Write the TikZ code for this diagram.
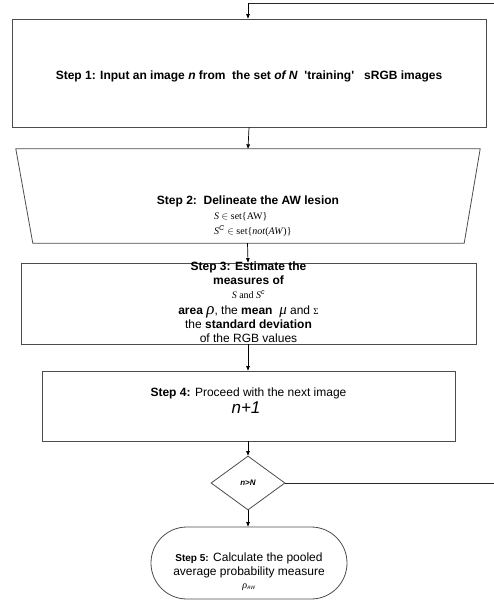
\documentclass[tikz,border=0pt]{standalone}
\usepackage{fontspec}
\setmainfont{Liberation Sans}
\newfontfamily\serifface{Liberation Serif}
\usetikzlibrary{arrows.meta,shapes.geometric}
\begin{document}
\begin{tikzpicture}[x=1pt,y=-1pt,
  box/.style={draw=black!70, line width=0.8pt, inner sep=0pt},
  conn/.style={draw=black, line width=0.7pt, -{Triangle[length=4.5pt,width=3.5pt]}},
  line/.style={draw=black!85, line width=0.7pt},
  txt/.style={inner sep=0pt, anchor=base},
]
\useasboundingbox (0,0) rectangle (493,600);

% Step 1
\node[box, minimum width=474pt, minimum height=108pt] (s1) at (249,73) {};
\node[txt, font=\bfseries\fontsize{12}{14}\selectfont] (t1) at (249,79)
  {Step 1: Input an image \textit{n} from\ \ the set \textit{of N}\ \ \textquotesingle training\textquotesingle\ \ \ sRGB images};

% Step 2 (trapezoid)
\node[inner sep=0pt, minimum width=464pt, minimum height=94pt] (s2) at (248,196) {};
\draw[box] (s2.north west) -- (s2.north east) -- ([xshift=-16pt]s2.south east)
  -- ([xshift=17pt]s2.south west) -- cycle;
\node[txt, font=\bfseries\fontsize{12}{14}\selectfont] (t2) at (248,204)
  {Step 2:\ \ Delineate the AW lesion};
\node[txt, anchor=base west, font=\serifface\fontsize{10}{12}\selectfont] (t2a) at (214,219)
  {\textit{S} $\in$\ set\{AW\}};
\node[txt, anchor=base west, font=\serifface\fontsize{10}{12}\selectfont] (t2b) at (214,234)
  {\textit{S}$^{\mathit{C}}$ $\in$\ set\{\textit{not}(\textit{AW})\}};

% Step 3
\node[box, minimum width=455pt, minimum height=81pt] (s3) at (248.5,303.5) {};
\node[txt, font=\bfseries\fontsize{12}{14}\selectfont] (t3a) at (248.5,270.5) {Step 3: Estimate the};
\node[txt, font=\bfseries\fontsize{12}{14}\selectfont] (t3b) at (248.5,284.5) {measures of};
\node[txt, font=\serifface\fontsize{10}{12}\selectfont] (t3c) at (248.5,298.5) {\textit{S} and \textit{S}$^{\mathit{c}}$};
\node[txt, font=\fontsize{12}{14}\selectfont] (t3d) at (248.5,314)
  {\textbf{area} {\serifface\itshape\fontsize{17}{17}\selectfont ρ}, the \textbf{mean}\ \ {\serifface\itshape\fontsize{15}{15}\selectfont μ} and {\serifface\fontsize{9}{9}\selectfont Σ}};
\node[txt, font=\fontsize{12}{14}\selectfont] (t3e) at (248.5,328) {the \textbf{standard deviation}};
\node[txt, font=\fontsize{12}{14}\selectfont] (t3f) at (248.5,342) {of the RGB values};

% Step 4
\node[box, minimum width=413pt, minimum height=70pt] (s4) at (248.5,406) {};
\node[txt, font=\fontsize{12}{14}\selectfont] (t4a) at (248.5,396.5) {\textbf{Step 4:} Proceed with the next image};
\node[txt, font=\itshape\fontsize{17}{17}\selectfont] (t4b) at (246,413) {n+1};

% Decision
\node[diamond, box, minimum width=74pt, minimum height=54pt, font=\bfseries\itshape\fontsize{8}{8}\selectfont] (d) at (248,483) {n>N};

% Step 5
\node[box, minimum width=196pt, minimum height=72pt, rounded corners=35.9pt] (s5) at (249,563) {};
\node[txt, font=\fontsize{12}{14}\selectfont] (t5a) at (249,561) {{\bfseries\fontsize{10}{12}\selectfont Step 5:} Calculate the pooled};
\node[txt, font=\fontsize{12}{14}\selectfont] (t5b) at (249,575) {average probability measure};
\node[txt, font=\serifface\fontsize{10}{12}\selectfont] (t5c) at (249,588) {\textit{ρ}$_{\mathit{\scriptscriptstyle AW}}$};

% Connectors
\coordinate (loopR) at (494,483);
\coordinate (loopT) at (494,3);
\coordinate (loopL) at (248,3);
\draw[conn] (s1.south) -- (s2.north);
\draw[conn] ([xshift=-0.5pt]s2.south) -- ([xshift=-0.5pt]s3.north);
\draw[conn] ([xshift=-0.5pt]s3.south) -- ([xshift=-0.5pt]s4.north);
\draw[conn] ([xshift=-0.5pt]s4.south) -- (d.north);
\draw[conn] (d.south) -- (d.south |- s5.north);
\draw[line] (d.east) -- (loopR) -- (loopT) -- (loopL);
\draw[conn] (loopL) -- (loopL |- s1.north);
\end{tikzpicture}
\end{document}
